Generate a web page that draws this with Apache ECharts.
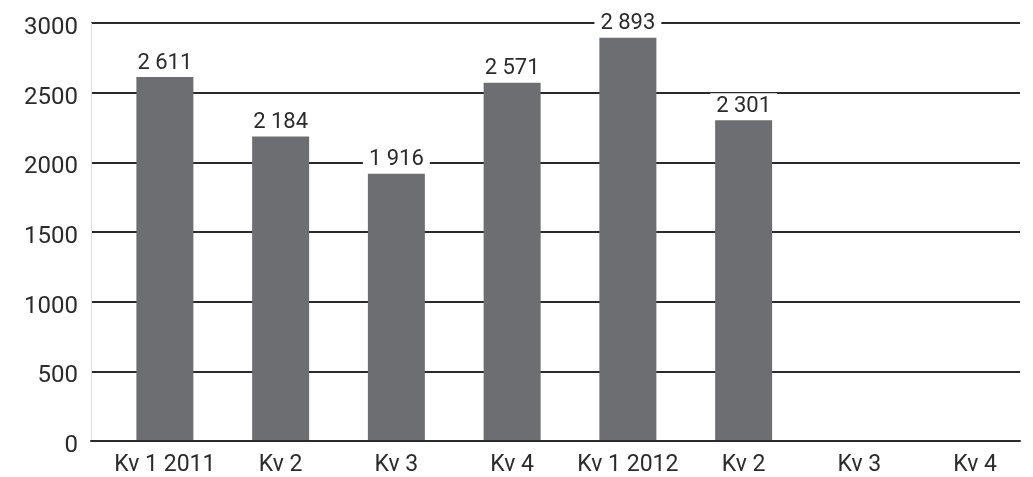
<!DOCTYPE html>
<html>
<head>
<meta charset="utf-8">
<script src="https://cdn.jsdelivr.net/npm/echarts@6/dist/echarts.min.js"></script>
<style>
  html, body { margin: 0; padding: 0; background: #fff; }
  #main { width: 1033px; height: 477px; }
</style>
</head>
<body>
<div id="main"></div>
<script>
var quarters = ['Kv 1 2011', 'Kv 2', 'Kv 3', 'Kv 4', 'Kv 1 2012', 'Kv 2', 'Kv 3', 'Kv 4'];
var values = [2611, 2184, 1916, 2571, 2893, 2301, null, null];
var yTicks = [0, 500, 1000, 1500, 2000, 2500, 3000];

var myChart = echarts.init(document.getElementById('main'));

// space as thousands separator, "2 611"
function spaced(v) {
  return String(v).replace(/\B(?=(\d{3})+(?!\d))/g, ' ');
}

var option = {
  animation: false,
  backgroundColor: '#fff',
  textStyle: { fontFamily: 'Roboto', color: '#2b2b2b' },
  grid: [
    // grid with the lines and the value axis
    { left: 91, right: 13, top: 23, bottom: 36 },
    // grid holding the bars and quarter labels
    { left: 107, width: 947, top: 23, bottom: 36 }
  ],
  xAxis: [
    {
      gridIndex: 0,
      type: 'category',
      data: quarters,
      axisLine: { lineStyle: { color: '#2a2a2a', width: 2 } },
      axisTick: { show: false },
      axisLabel: { show: false }
    },
    {
      gridIndex: 1,
      type: 'category',
      data: quarters,
      axisLine: { show: false },
      axisTick: { show: false },
      axisLabel: { fontSize: 23, color: '#2b2b2b', margin: 14, interval: 0 }
    }
  ],
  yAxis: [
    {
      gridIndex: 0,
      type: 'value',
      min: yTicks[0],
      max: yTicks[yTicks.length - 1],
      interval: 500,
      axisLine: { show: true, lineStyle: { color: '#dddddd', width: 1 } },
      axisTick: { show: false },
      axisLabel: {
        fontSize: 24,
        lineHeight: 10,
        verticalAlign: 'top',
        color: '#2b2b2b',
        margin: 13,
        formatter: function (v) { return String(v); }
      },
      splitLine: { show: true, lineStyle: { color: '#2a2a2a', width: 2 } }
    },
    {
      gridIndex: 1,
      type: 'value',
      min: yTicks[0],
      max: yTicks[yTicks.length - 1],
      show: false,
      splitLine: { show: false }
    }
  ],
  series: [
    {
      type: 'bar',
      xAxisIndex: 1,
      yAxisIndex: 1,
      data: values,
      barWidth: 57,
      itemStyle: { color: '#6d6e71' },
      label: {
        show: true,
        position: 'top',
        distance: 3,
        fontSize: 22,
        color: '#2b2b2b',
        backgroundColor: '#fff',
        padding: [2, 6, 0, 6],
        formatter: function (p) { return spaced(p.value); }
      }
    }
  ]
};

myChart.setOption(option);
</script>
</body>
</html>
